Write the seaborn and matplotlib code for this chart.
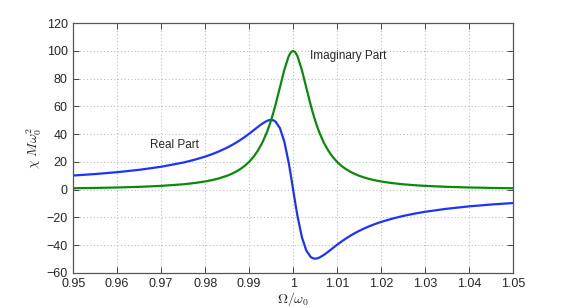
import matplotlib
matplotlib.use("Agg")
import matplotlib.pyplot as plt
import seaborn as sns
import pandas as pd

# frequency ratio Omega/omega_0
omega = [0.95, 0.955, 0.96, 0.965, 0.97, 0.975, 0.9775, 0.98, 0.9815, 0.983,
         0.985, 0.986, 0.987, 0.988, 0.989, 0.99, 0.991, 0.992, 0.993, 0.994,
         0.9945, 0.995, 0.9955, 0.996, 0.997, 0.998, 0.999, 0.9995, 1.0, 1.0005,
         1.001, 1.002, 1.003, 1.004, 1.0045, 1.005, 1.0055, 1.006, 1.007, 1.008,
         1.009, 1.01, 1.011, 1.012, 1.013, 1.014, 1.015, 1.016, 1.017, 1.018,
         1.019, 1.02, 1.0225, 1.025, 1.0275, 1.03, 1.035, 1.04, 1.045, 1.05]

# chi * M * omega_0^2
real_part = [10.16, 11.23, 12.57, 14.26, 16.48, 19.49, 21.44, 23.80, 25.45, 27.34,
             30.27, 31.95, 33.78, 35.78, 37.95, 40.28, 42.74, 45.22, 47.58, 49.45,
             50.04, 50.25, 49.96, 49.00, 44.28, 34.58, 19.26, 9.91, 0.0, -9.89,
             -19.20, -34.39, -43.95, -48.56, -49.49, -49.75, -49.51, -48.91, -47.02, -44.67,
             -42.17, -39.72, -37.40, -35.23, -33.23, -31.40, -29.73, -28.20, -26.81, -25.53,
             -24.35, -23.27, -20.92, -18.98, -17.35, -15.96, -13.75, -12.06, -10.73, -9.66]

imag_part = [0.99, 1.22, 1.54, 2.00, 2.70, 3.85, 4.71, 5.89, 6.82, 7.97,
             10.01, 11.33, 12.91, 14.82, 17.15, 20.04, 23.63, 28.15, 33.86, 41.08,
             45.36, 50.13, 55.39, 61.13, 73.69, 86.36, 96.24, 99.06, 100.0, 98.96,
             96.07, 86.06, 73.37, 60.83, 55.11, 49.88, 45.14, 40.88, 33.70, 28.03,
             23.54, 19.96, 17.09, 14.77, 12.86, 11.29, 9.99, 8.88, 7.95, 7.15,
             6.47, 5.88, 4.70, 3.84, 3.20, 2.70, 2.00, 1.54, 1.22, 0.99]

df = pd.DataFrame({"omega": omega, "real": real_part, "imag": imag_part})

sns.set_style("ticks")
plt.rcParams['font.family'] = ['Liberation Sans', 'DejaVu Sans']
plt.rcParams['mathtext.fontset'] = 'cm'

fig = plt.figure(figsize=(5.67, 3.08), dpi=100)
ax = fig.add_axes([0.129, 0.114, 0.776, 0.811])

sns.lineplot(data=df, x="omega", y="real", color="#1a33ff", linewidth=1.6, ax=ax)
sns.lineplot(data=df, x="omega", y="imag", color="#0a8a0a", linewidth=1.6, ax=ax)

ax.set_xlim(0.95, 1.05)
ax.set_ylim(-60, 120)
ax.set_xticks([0.95, 0.96, 0.97, 0.98, 0.99, 1.0, 1.01, 1.02, 1.03, 1.04, 1.05])
ax.set_xticklabels(["0.95", "0.96", "0.97", "0.98", "0.99", "1", "1.01", "1.02",
                    "1.03", "1.04", "1.05"])
ax.set_yticks(range(-60, 121, 20))

ax.grid(True, linestyle=(0, (1, 2.5)), color="#b0b0b0", linewidth=0.7)
ax.tick_params(direction="in", top=True, right=True, length=4, width=0.7,
               color="#444444", labelsize=9, pad=4)
for s in ax.spines.values():
    s.set_color("#555555")
    s.set_linewidth(0.9)

ax.set_xlabel(r"$\Omega/\omega_0$", fontsize=10, labelpad=0)
ax.set_ylabel(r"$\chi\ M\omega_0^2$", fontsize=10, labelpad=2)

ax.text(0.9675, 32, "Real Part", fontsize=8.5, va="center")
ax.text(1.0039, 96.5, "Imaginary Part", fontsize=8.5, va="center")

fig.savefig("out.png", dpi=100)
